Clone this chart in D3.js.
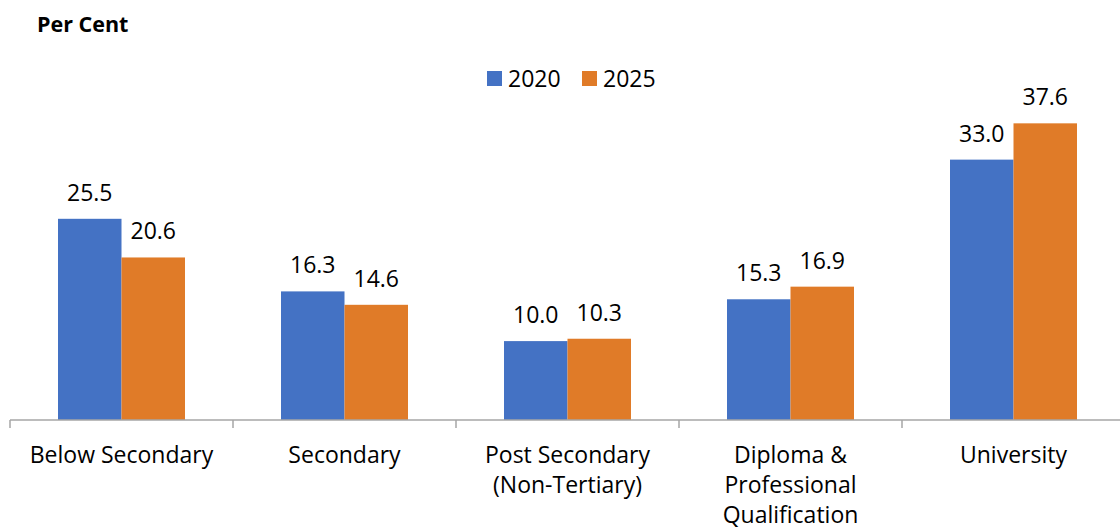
<!DOCTYPE html>
<html><head><meta charset="utf-8">
<script src="https://cdn.jsdelivr.net/npm/d3@7"></script>
<style>body{margin:0;background:#fff}svg{display:block}text{font-family:"Open Sans",sans-serif}</style>
</head><body>
<svg id="c" width="1120" height="531"></svg>
<script>
const categories = [["Below Secondary"],["Secondary"],["Post Secondary","(Non-Tertiary)"],["Diploma &","Professional","Qualification"],["University"]];
const seriesNames = ["2020","2025"];
const values2020 = [25.5,16.3,10.0,15.3,33.0];
const values2025 = [20.6,14.6,10.3,16.9,37.6];
const colors = ["#4472C4","#E07B28"];

const svg = d3.select("#c");
const baseY = 420, left = 10, bandW = 223;
const x0 = d3.scaleBand().domain(d3.range(categories.length)).range([left, left + bandW*categories.length]);
const x1 = d3.scaleBand().domain(seriesNames).range([48, 175]);
const y = d3.scaleLinear().domain([0, 40]).range([baseY, baseY - 40*7.89]);

const series = [values2020, values2025];
series.forEach((vals, si) => {
  const g = svg.append("g");
  g.selectAll("rect").data(vals).join("rect")
    .attr("x", (d,i) => x0(i) + x1(seriesNames[si]))
    .attr("y", d => y(d))
    .attr("width", x1.bandwidth())
    .attr("height", d => baseY - y(d))
    .attr("fill", colors[si]);
  g.selectAll("text").data(vals).join("text")
    .attr("x", (d,i) => x0(i) + x1(seriesNames[si]) + x1.bandwidth()/2)
    .attr("y", d => y(d) - 18)
    .attr("text-anchor","middle")
    .attr("font-size", 23)
    .attr("fill","#000")
    .text(d => d.toFixed(1));
});

// axis
const ax = svg.append("g");
ax.append("line").attr("x1", left).attr("x2", 1120).attr("y1", baseY).attr("y2", baseY).attr("stroke","#A6A6A6").attr("stroke-width",1.5);
ax.selectAll("line.t").data(d3.range(categories.length)).join("line").attr("class","t")
  .attr("x1", i => x0(i)).attr("x2", i => x0(i)).attr("y1", baseY).attr("y2", baseY+8)
  .attr("stroke","#A6A6A6").attr("stroke-width",1.5);
categories.forEach((lines, i) => {
  const t = svg.append("text").attr("text-anchor","middle").attr("font-size",23).attr("fill","#000");
  lines.forEach((l, j) => t.append("tspan").attr("x", x0(i) + bandW/2).attr("y", 463 + j*30).text(l));
});

// title
svg.append("text").attr("x",37).attr("y",32).attr("font-size",21.5).attr("font-weight","bold").text("Per Cent");

// legend
const leg = [{x:487},{x:582}];
seriesNames.forEach((s, i) => {
  svg.append("rect").attr("x", leg[i].x).attr("y", 71).attr("width",15).attr("height",15).attr("fill",colors[i]);
  svg.append("text").attr("x", leg[i].x + 21).attr("y", 87).attr("font-size",23).text(s);
});
</script>
</body></html>
